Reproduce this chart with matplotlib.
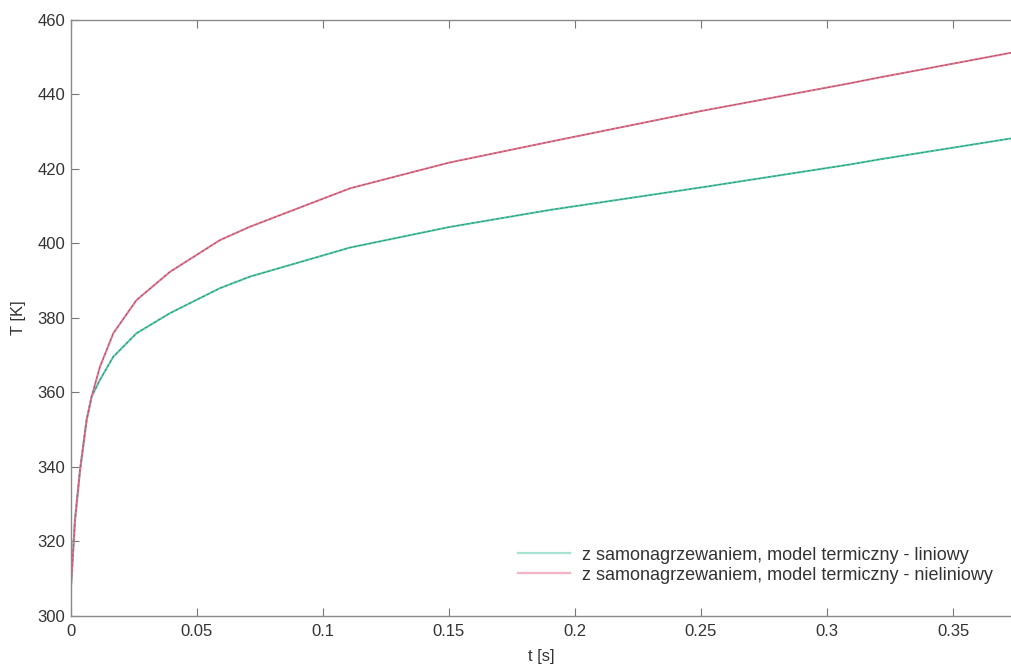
import matplotlib
matplotlib.use("Agg")
import matplotlib.pyplot as plt
from matplotlib.lines import Line2D

plt.rcParams['font.family'] = ['Liberation Sans', 'DejaVu Sans']

# Time samples [s]
t_lin = [0, 0.0016, 0.0036, 0.0062, 0.0082, 0.0115, 0.0168, 0.026, 0.0393,
         0.0591, 0.071, 0.1107, 0.15, 0.19, 0.2496, 0.309, 0.321, 0.373]
T_lin = [307.9, 325.8, 339.2, 352.6, 358.9, 363.4, 369.6, 375.9, 381.3,
         388.0, 391.1, 398.9, 404.4, 409.0, 415.0, 421.2, 422.6, 428.2]

t_nlin = [0, 0.0016, 0.0036, 0.0062, 0.0082, 0.0115, 0.0168, 0.026, 0.0393,
          0.0591, 0.071, 0.1107, 0.15, 0.19, 0.2496, 0.309, 0.321, 0.373]
T_nlin = [307.9, 325.8, 339.2, 352.6, 358.9, 366.9, 375.9, 384.8, 392.4,
          400.9, 404.5, 414.8, 421.7, 427.3, 435.5, 443.0, 444.6, 451.2]

labels = ["z samonagrzewaniem, model termiczny - liniowy",
          "z samonagrzewaniem, model termiczny - nieliniowy"]
colors = ["#45c9a4", "#e8708c"]
legend_colors = ["#a6e3d3", "#f2b3c2"]

x_ticks = [0, 0.05, 0.1, 0.15, 0.2, 0.25, 0.3, 0.35]
x_tick_labels = ["0", "0.05", "0.1", "0.15", "0.2", "0.25", "0.3", "0.35"]
y_ticks = [300, 320, 340, 360, 380, 400, 420, 440, 460]

fig = plt.figure(figsize=(10.11, 6.66), dpi=100)
ax = fig.add_axes([0.0702, 0.0751, 0.9298, 0.8949])

for t, T, c in [(t_lin, T_lin, colors[0]), (t_nlin, T_nlin, colors[1])]:
    ax.plot(t, T, color=c, lw=1.4, solid_joinstyle='round')
    ax.plot(t, T, color="#4a4a4a", lw=0.6, ls=(0, (3, 3)), alpha=0.6)

ax.set_xlim(0, 0.373)
ax.set_ylim(300, 460)
ax.set_xticks(x_ticks)
ax.set_xticklabels(x_tick_labels)
ax.set_yticks(y_ticks)

text_col = "#333333"
ax.tick_params(axis='both', direction='in', length=6, width=0.8,
               colors="#777777", labelcolor=text_col, labelsize=12,
               top=True, right=False)
ax.tick_params(axis='x', pad=6)
ax.tick_params(axis='y', pad=4)
for side in ['left', 'bottom', 'top']:
    ax.spines[side].set_color("#8a8a8a")
    ax.spines[side].set_linewidth(1.0)
ax.spines['right'].set_visible(False)

ax.set_xlabel("t [s]", fontsize=12, color=text_col, labelpad=7)
ax.set_ylabel("T [K]", fontsize=12, color=text_col, labelpad=8)

handles = [Line2D([], [], color=legend_colors[i], lw=1.6) for i in range(2)]
ax.legend(handles, labels, loc='lower right', frameon=False, fontsize=13,
          handlelength=2.9, handletextpad=0.65, labelspacing=0.17,
          borderpad=0.4, bbox_to_anchor=(0.9976, 0.027), labelcolor=text_col)

fig.savefig("out.png", dpi=100)
